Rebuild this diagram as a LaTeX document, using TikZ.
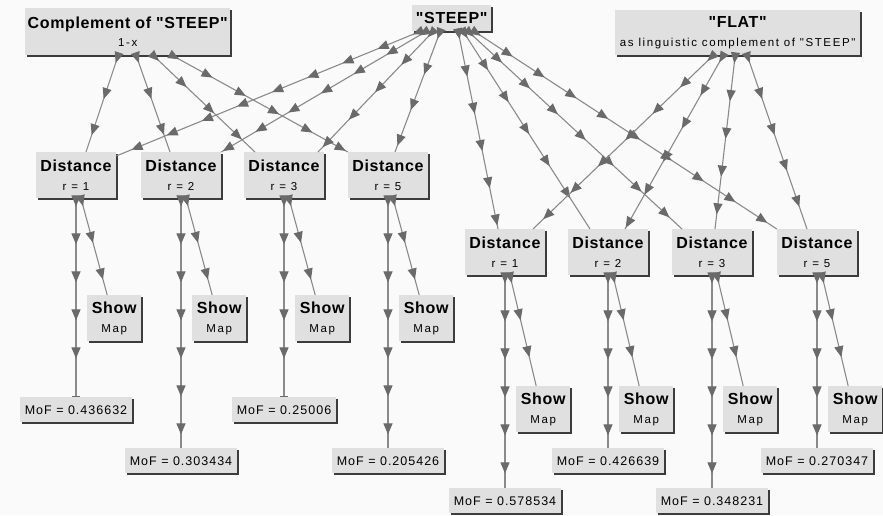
\documentclass[tikz,border=0pt]{standalone}
\usepackage{fontspec}
\setmainfont{Liberation Sans}
\newfontfamily\headfont{Liberation Sans}[LetterSpace=4]
\newfontfamily\subfont{Liberation Sans}[LetterSpace=14]
\newfontfamily\moffont{Liberation Sans}[LetterSpace=8]
\usetikzlibrary{arrows.meta,decorations.markings,shadows}
\definecolor{bgcol}{HTML}{FAFAFA}
\definecolor{boxfill}{HTML}{E0E0E0}
\definecolor{shadowcol}{HTML}{3C3C3C}
\definecolor{edgecol}{HTML}{8A8A8A}
\definecolor{arrowcol}{HTML}{6A6A6A}
\newcommand{\hdtxt}{\headfont\bfseries\fontsize{16}{18.5}\selectfont}
\newcommand{\subtxt}{\subfont\mdseries\fontsize{11.5}{12}\selectfont}
\begin{document}
\begin{tikzpicture}[x=1pt,y=-1pt,
  boxn/.style={fill=boxfill, inner sep=0pt, align=center,
    general shadow={shadow xshift=2pt, shadow yshift=-2pt, fill=shadowcol}},
  headbox/.style={boxn, font=\hdtxt},
  distbox/.style={headbox, minimum width=80pt, minimum height=46pt, anchor=north},
  showbox/.style={headbox, minimum width=54pt, minimum height=46pt, anchor=north west},
  mofbox/.style={boxn, font=\moffont\fontsize{12.5}{14}\selectfont, minimum height=25pt, inner xsep=4.5pt, anchor=north},
  link/.style={draw=edgecol, line width=1.1pt, postaction={decorate},
    decoration={markings, mark=between positions 8pt and -1pt step 38pt with {\arrow{Triangle[length=11pt,width=9pt,color=arrowcol]}}}},
]
\fill[bgcol] (0,0) rectangle (883,515);
\useasboundingbox (0,0) rectangle (883,515);

% top nodes
\node[headbox, minimum width=205pt, minimum height=47pt, anchor=north west] (comp) at (25,8) {Complement of "STEEP"\\{\subtxt 1-x}};
\node[headbox, minimum width=79pt, minimum height=26pt, anchor=north west] (steep) at (412,5) {"STEEP"};
\node[headbox, minimum width=245pt, minimum height=45pt, anchor=north west] (flat) at (615,10) {"FLAT"\\{\subtxt as linguistic complement of "STEEP"}};

% distance row 1
\node[distbox] (d1a) at (76,152) {Distance\\{\subtxt r = 1}};
\node[distbox] (d2a) at (181,152) {Distance\\{\subtxt r = 2}};
\node[distbox] (d3a) at (284,152) {Distance\\{\subtxt r = 3}};
\node[distbox] (d5a) at (388,152) {Distance\\{\subtxt r = 5}};
% distance row 2
\node[distbox] (d1b) at (505,229) {Distance\\{\subtxt r = 1}};
\node[distbox] (d2b) at (608,229) {Distance\\{\subtxt r = 2}};
\node[distbox] (d3b) at (712,229) {Distance\\{\subtxt r = 3}};
\node[distbox] (d5b) at (817,229) {Distance\\{\subtxt r = 5}};

% show map
\node[showbox] (s1a) at (87,295) {Show\\{\subtxt Map}};
\node[showbox] (s2a) at (192,295) {Show\\{\subtxt Map}};
\node[showbox] (s3a) at (295,295) {Show\\{\subtxt Map}};
\node[showbox] (s5a) at (399,295) {Show\\{\subtxt Map}};
\node[showbox] (s1b) at (516,386) {Show\\{\subtxt Map}};
\node[showbox] (s2b) at (619,386) {Show\\{\subtxt Map}};
\node[showbox] (s3b) at (723,386) {Show\\{\subtxt Map}};
\node[showbox] (s5b) at (828,386) {Show\\{\subtxt Map}};

% MoF
\node[mofbox] (m1a) at (76,397) {MoF = 0.436632};
\node[mofbox] (m2a) at (181,448) {MoF = 0.303434};
\node[mofbox] (m3a) at (284,397) {MoF = 0.25006};
\node[mofbox] (m5a) at (388,448) {MoF = 0.205426};
\node[mofbox] (m1b) at (505,488) {MoF = 0.578534};
\node[mofbox] (m2b) at (608,448) {MoF = 0.426639};
\node[mofbox] (m3b) at (712,488) {MoF = 0.348231};
\node[mofbox] (m5b) at (817,448) {MoF = 0.270347};

% complement edges
\draw[link] ([xshift=-9.5pt]comp.south) -- ([xshift=10pt]d1a.north);
\draw[link] ([xshift=8.5pt]comp.south) -- ([xshift=-11pt]d2a.north);
\draw[link] ([xshift=25.5pt]comp.south) -- ([xshift=-29pt]d3a.north);
\draw[link] ([xshift=44.5pt]comp.south) -- (d5a.north west);

% steep edges
\draw[link] ([xshift=-31.5pt]steep.south) -- ([yshift=-4pt]d1a.north east);
\draw[link] ([xshift=-25.5pt]steep.south) -- (d2a.north east);
\draw[link] ([xshift=-18.5pt]steep.south) -- ([xshift=34pt]d3a.north);
\draw[link] ([xshift=-11.5pt]steep.south) -- ([xshift=7pt]d5a.north);
\draw[link] ([xshift=6.5pt]steep.south) -- ([xshift=-7pt]d1b.north);
\draw[link] ([xshift=11.5pt]steep.south) -- ([xshift=-18pt]d2b.north);
\draw[link] ([xshift=16.5pt]steep.south) -- ([xshift=-30pt]d3b.north);
\draw[link] ([xshift=22.5pt]steep.south) -- (d5b.north west);

% flat edges
\draw[link] ([xshift=-24.5pt]flat.south) -- ([xshift=28pt]d1b.north);
\draw[link] ([xshift=-14.5pt]flat.south) -- ([xshift=17pt]d2b.north);
\draw[link] ([xshift=-2.5pt]flat.south) -- ([xshift=3pt]d3b.north);
\draw[link] ([xshift=9.5pt]flat.south) -- ([xshift=-10pt]d5b.north);

% distance -> MoF
\draw[link,-{Bar[width=8pt,color=arrowcol]}] (d1a.south) -- (m1a.north);
\draw[link] (d2a.south) -- (m2a.north);
\draw[link,-{Bar[width=8pt,color=arrowcol]}] (d3a.south) -- (m3a.north);
\draw[link] (d5a.south) -- (m5a.north);
\draw[link] (d1b.south) -- (m1b.north);
\draw[link] (d2b.south) -- (m2b.north);
\draw[link] (d3b.south) -- (m3b.north);
\draw[link] (d5b.south) -- (m5b.north);

% distance -> show map
\draw[link] ([xshift=5pt]d1a.south) -- ([xshift=-7pt]s1a.north);
\draw[link] ([xshift=5pt]d2a.south) -- ([xshift=-7pt]s2a.north);
\draw[link] ([xshift=5pt]d3a.south) -- ([xshift=-7pt]s3a.north);
\draw[link] ([xshift=5pt]d5a.south) -- ([xshift=-7pt]s5a.north);
\draw[link] ([xshift=5pt]d1b.south) -- ([xshift=-7pt]s1b.north);
\draw[link] ([xshift=5pt]d2b.south) -- ([xshift=-7pt]s2b.north);
\draw[link] ([xshift=5pt]d3b.south) -- ([xshift=-7pt]s3b.north);
\draw[link] ([xshift=5pt]d5b.south) -- ([xshift=-7pt]s5b.north);
\end{tikzpicture}
\end{document}
